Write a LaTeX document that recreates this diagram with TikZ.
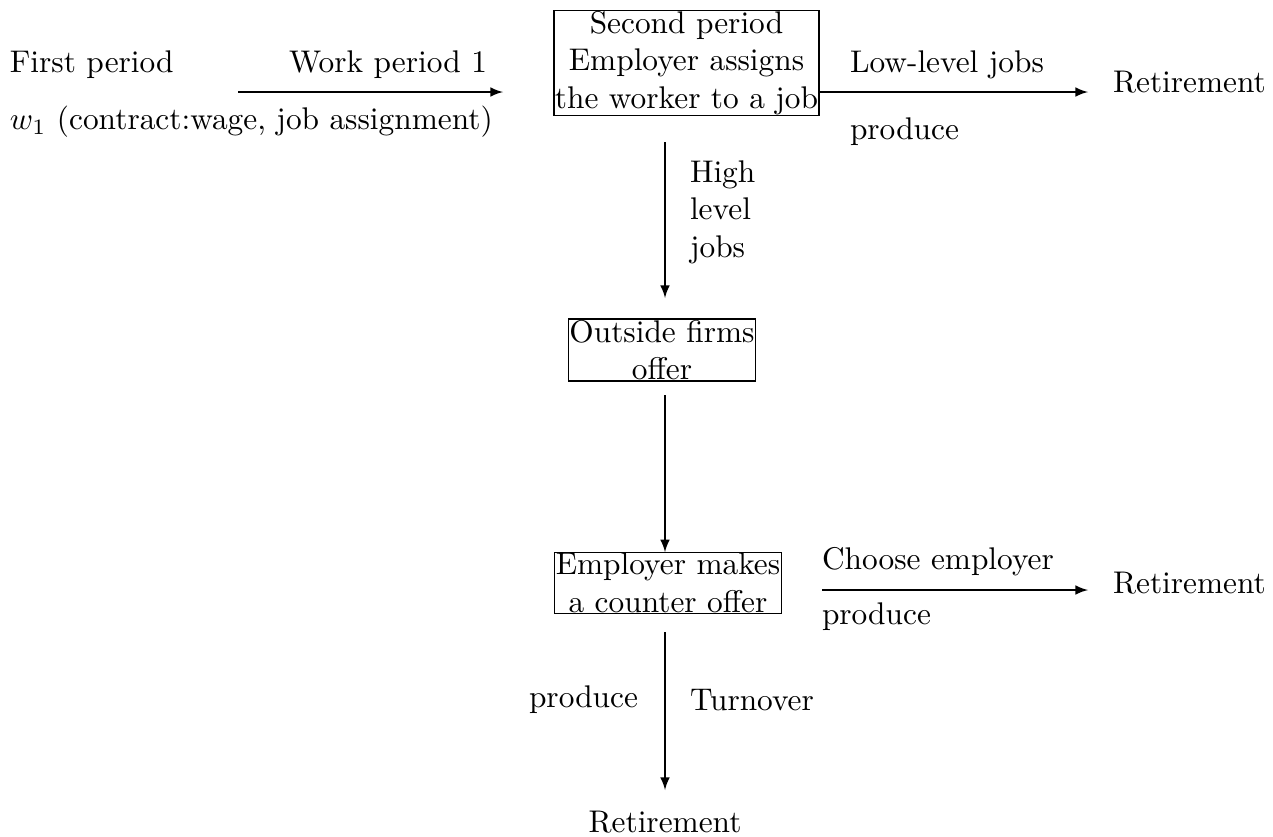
\documentclass[tikz,border=0pt]{standalone}
\usepackage{tikz}
\usetikzlibrary{arrows}
\usetikzlibrary{positioning}

\begin{document}
\begin{tikzpicture}[
  x=0.319pt,y=-0.319pt,
  ->,>=latex,thin,
  box/.style={draw,rectangle,align=center,inner sep=0.3pt,outer sep=0pt},
  lbl/.style={inner sep=0pt,outer sep=0pt}]
      \useasboundingbox (0,0) rectangle (1273,836);

      % first period
      \node [lbl,anchor=west] (first) at (10,65){First period};
      \node [lbl,anchor=east] (work) at (487,65){Work period 1};
      \node [lbl,anchor=west] (wage) at (10,122){$w_1$ (contract:wage, job assignment)};
      \coordinate (ws) at (238,92);
      \coordinate (we) at (503,92);

      % second period
      \node [box] (assign) at (686.5,63){Second period\\Employer assigns\\the worker to a job};
      \node [lbl,anchor=west] (low) at (850,65){Low-level jobs};
      \node [lbl,anchor=west] (prod1) at (850,132){produce};
      \node [lbl,anchor=west] (ret1) at (1113,82){Retirement};
      \coordinate (a1) at (818,92);
      \coordinate (a1e) at (1088,92);

      \node [lbl,anchor=west,align=left] (high) at (690,212){High\\level\\jobs};
      \coordinate (v1s) at (665,142);
      \coordinate (v1e) at (665,298);

      \node [box] (outside) at (662,350){Outside firms\\offer};
      \coordinate (v2s) at (665,395);

      \node [box] (counter) at (668,583){Employer makes\\a counter offer};
      \node [lbl,anchor=west] (choose) at (822,562){Choose employer};
      \node [lbl,anchor=west] (prod2) at (822,617){produce};
      \node [lbl,anchor=west] (ret2) at (1113,583){Retirement};
      \coordinate (h2s) at (822,590);
      \coordinate (h2e) at (1088,590);

      \coordinate (v3s) at (665,632);
      \coordinate (v3e) at (665,790);
      \node [lbl,anchor=east] (prod3) at (638,700){produce};
      \node [lbl,anchor=west] (turn) at (690,700){Turnover};
      \node [lbl] (ret3) at (665,822){Retirement};

      \draw (ws) -- (we);
      \draw (a1) -- (a1e);
      \draw (v1s) -- (v1e);
      \draw (v2s) -- (v2s |- counter.north);
      \draw (h2s) -- (h2e);
      \draw (v3s) -- (v3e);

\end{tikzpicture}
\end{document}
